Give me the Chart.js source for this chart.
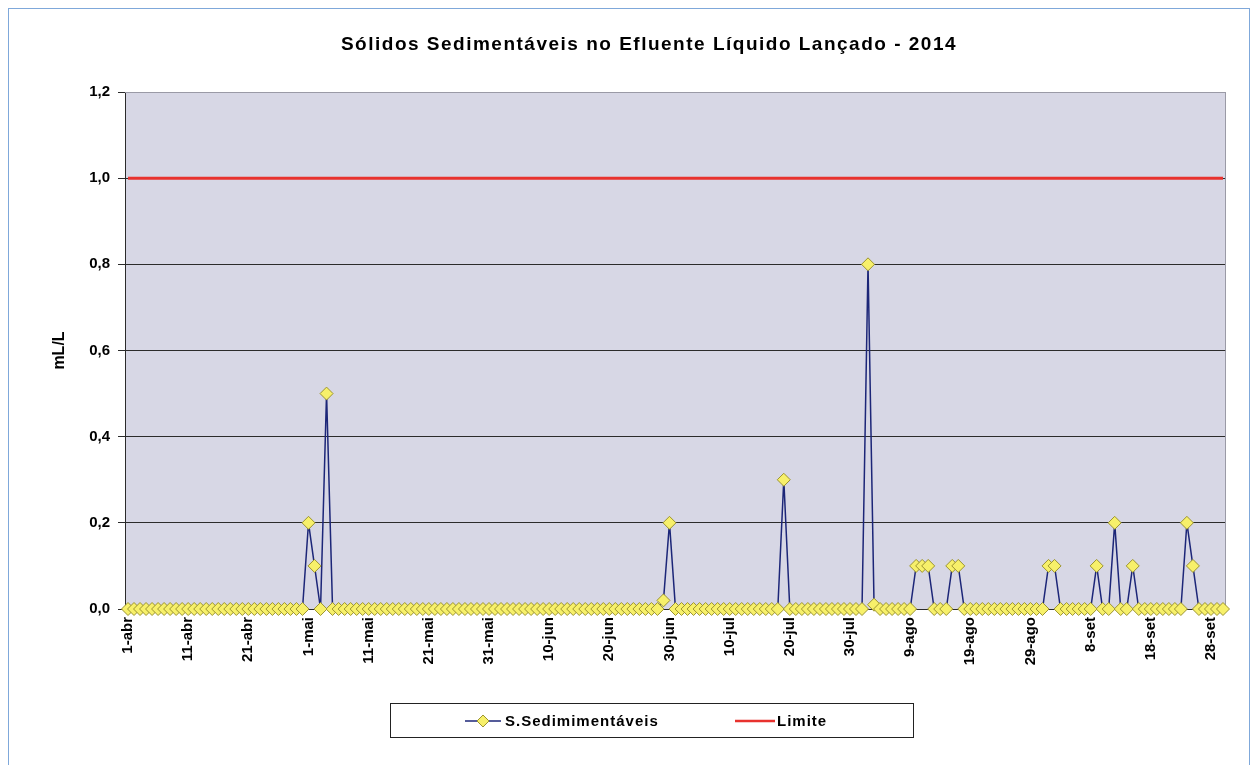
<!DOCTYPE html>
<html lang="pt-BR">
<head>
<meta charset="utf-8">
<title>Sólidos Sedimentáveis - 2014</title>
<script src="https://cdn.jsdelivr.net/npm/chart.js@4.4.1/dist/chart.umd.min.js"></script>
<style>
    html, body { margin: 0; padding: 0; background: #fff; overflow: hidden; }
    #wrap { position: relative; width: 1252px; height: 765px; }
    #moldura {
        position: absolute; left: 8px; top: 8px; width: 1240px; height: 800px;
        border: 1.5px solid #7fa8da; pointer-events: none;
    }
    #titulo {
        position: absolute; left: 0; top: 33px; width: 1298px; text-align: center;
        font: bold 19px Arial, "Liberation Sans", sans-serif; letter-spacing: 1.5px; color: #000;
        line-height: 22px;
    }
    #legenda {
        position: absolute; left: 390px; top: 703px; width: 522px; height: 33px;
        border: 1px solid #222; background: #fff;
        font: bold 15px Arial, "Liberation Sans", sans-serif; letter-spacing: 1px; color: #000;
    }
    .item { position: absolute; top: 0; height: 33px; display: flex; align-items: center; }
</style>
</head>
<body>
<div id="wrap">
    <canvas id="grafico"></canvas>
    <div id="titulo">Sólidos Sedimentáveis no Efluente Líquido Lançado - 2014</div>
    <div id="moldura"></div>
    <div id="legenda">
        <div class="item" style="left: 74px;">
            <svg width="36" height="14" style="margin-right: 4px;">
                <line x1="0" y1="7" x2="36" y2="7" stroke="#1c2678" stroke-width="1.5"/>
                <polygon points="18,1 24,7 18,13 12,7" fill="#f7f06a" stroke="#9c9430" stroke-width="1"/>
            </svg>
            <span>S.Sedimimentáveis</span>
        </div>
        <div class="item" style="left: 344px;">
            <svg width="40" height="14" style="margin-right: 2px;">
                <line x1="0" y1="7" x2="40" y2="7" stroke="#e8322e" stroke-width="2.5"/>
            </svg>
            <span>Limite</span>
        </div>
    </div>
</div>

<script>
/*
| Sólidos Sedimentáveis no Efluente Líquido Lançado - 2014
| Valores diários de 1-abr a 30-set (mL/L) e limite de 1,0 mL/L.
*/

const meses = ["abr", "mai", "jun", "jul", "ago", "set"];
const diasPorMes = [30, 31, 30, 31, 31, 30];

const valoresAbr = [0,0,0,0,0,0,0,0,0,0, 0,0,0,0,0,0,0,0,0,0, 0,0,0,0,0,0,0,0,0,0];
const valoresMai = [0.2,0.1,0,0.5,0,0,0,0,0,0, 0,0,0,0,0,0,0,0,0,0, 0,0,0,0,0,0,0,0,0,0, 0];
const valoresJun = [0,0,0,0,0,0,0,0,0,0, 0,0,0,0,0,0,0,0,0,0, 0,0,0,0,0,0,0,0,0.02,0.2];
const valoresJul = [0,0,0,0,0,0,0,0,0,0, 0,0,0,0,0,0,0,0,0.3,0, 0,0,0,0,0,0,0,0,0,0, 0];
const valoresAgo = [0,0.8,0.01,0,0,0,0,0,0,0.1, 0.1,0.1,0,0,0,0.1,0.1,0,0,0, 0,0,0,0,0,0,0,0,0,0, 0];
const valoresSet = [0.1,0.1,0,0,0,0,0,0,0.1,0, 0,0.2,0,0,0.1,0,0,0,0,0, 0,0,0,0.2,0.1,0,0,0,0,0];

const limite = 1.0;

const yTicks = [0, 0.2, 0.4, 0.6, 0.8, 1.0, 1.2];

// rótulos "d-mês" para cada dia
const categorias = [];
meses.forEach((m, k) => {
    for (let d = 1; d <= diasPorMes[k]; d++) categorias.push(d + "-" + m);
});

const sedimentaveis = [].concat(valoresAbr, valoresMai, valoresJun, valoresJul, valoresAgo, valoresSet);
const limiteSerie = categorias.map(() => limite);

const FONTE = "Arial, 'Liberation Sans', sans-serif";

const fundoPlot = {
    id: "fundoPlot",
    beforeDraw(chart) {
        const { ctx, chartArea: a } = chart;
        ctx.save();
        ctx.fillStyle = "#d7d7e5";
        ctx.fillRect(a.left, a.top, a.right - a.left, a.bottom - a.top);
        ctx.restore();
    },
    beforeDatasetsDraw(chart) {
        const { ctx, chartArea: a } = chart;
        ctx.save();
        ctx.strokeStyle = "#9a9aa6";
        ctx.lineWidth = 1;
        ctx.beginPath();
        ctx.moveTo(a.left, a.top + 0.5);
        ctx.lineTo(a.right - 0.5, a.top + 0.5);
        ctx.lineTo(a.right - 0.5, a.bottom);
        ctx.stroke();
        ctx.restore();
    }
};

new Chart(document.getElementById("grafico"), {
    type: "line",
    data: {
        labels: categorias,
        datasets: [
            {
                label: "S.Sedimimentáveis",
                data: sedimentaveis,
                borderColor: "#1c2678",
                borderWidth: 1.5,
                pointStyle: "rectRot",
                pointRadius: 6.5,
                pointBackgroundColor: "#f7f06a",
                pointBorderColor: "#9c9430",
                pointBorderWidth: 1,
                tension: 0,
                clip: false
            },
            {
                label: "Limite",
                data: limiteSerie,
                borderColor: "#e8322e",
                borderWidth: 3,
                pointRadius: 0,
                tension: 0
            }
        ]
    },
    options: {
        responsive: true,
        maintainAspectRatio: false,
        animation: false,
        layout: {
            padding: { top: 92, left: 0, right: 26, bottom: 16 }
        },
        plugins: {
            legend: { display: false },
            tooltip: { enabled: false },
            title: { display: false }
        },
        scales: {
            x: {
                offset: true,
                grid: { display: false },
                border: { display: false },
                ticks: {
                    autoSkip: false,
                    maxRotation: 90,
                    minRotation: 90,
                    padding: 0,
                    color: "#000",
                    font: { family: FONTE, size: 15, weight: "bold" },
                    callback: (v, i) => (i % 10 === 0 ? categorias[i] : "")
                },
                afterFit: (s) => { s.height = 140; }
            },
            y: {
                min: 0,
                max: 1.2,
                afterBuildTicks: (s) => { s.ticks = yTicks.map((v) => ({ value: v })); },
                grid: {
                    color: (c) => (c.tick && c.tick.value === 1.2 ? "#9a9aa6" : "#2b2b2b"),
                    lineWidth: 1,
                    tickLength: 7,
                    tickColor: "#2b2b2b"
                },
                border: { display: true, color: "#2b2b2b", width: 1 },
                ticks: {
                    padding: 8,
                    color: "#000",
                    font: { family: FONTE, size: 15, weight: "bold" },
                    callback: (v) => Number(v).toFixed(1).replace(".", ",")
                },
                title: {
                    display: true,
                    text: "mL/L",
                    color: "#000",
                    font: { family: FONTE, size: 16, weight: "bold" },
                    padding: { top: 50, bottom: 4 }
                },
                afterFit: (s) => { s.width = 125; }
            }
        }
    },
    plugins: [fundoPlot]
});
</script>
</body>
</html>
